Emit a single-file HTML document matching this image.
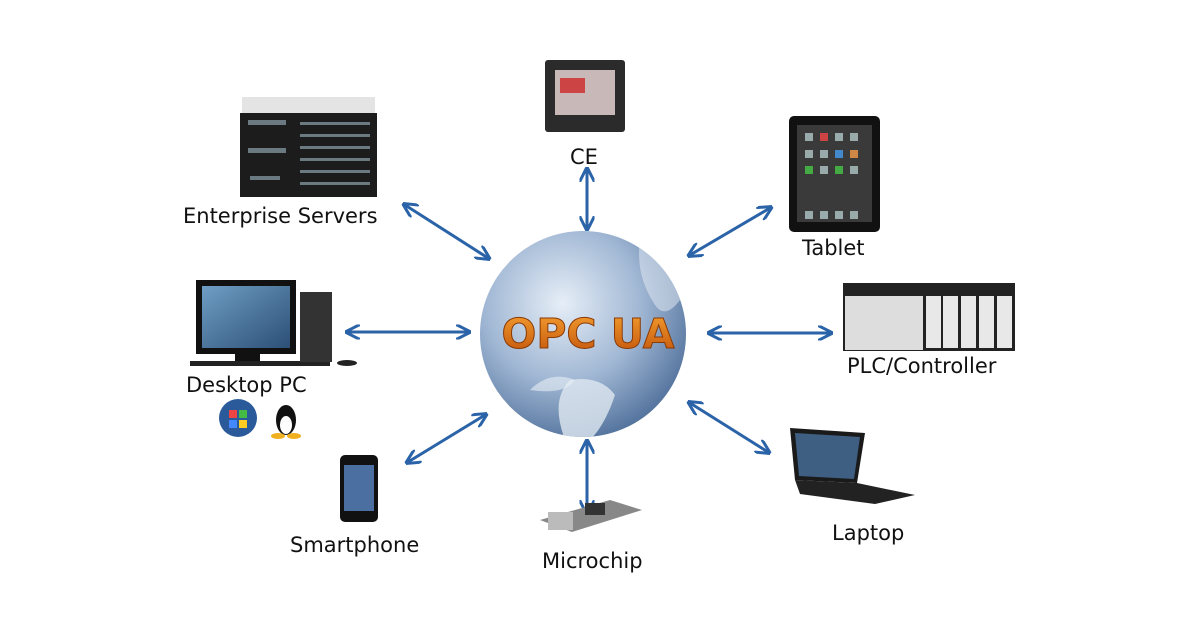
<!DOCTYPE html>
<html><head><meta charset="utf-8"><style>
html,body{margin:0;padding:0;background:#fff}
svg{display:block}
text{font-family:"DejaVu Sans","Liberation Sans",sans-serif;font-size:21px;fill:#111}
</style></head><body>
<svg width="1200" height="630" viewBox="0 0 1200 630" xmlns="http://www.w3.org/2000/svg">
<defs>
<radialGradient id="g" cx="0.4" cy="0.35" r="0.7">
<stop offset="0" stop-color="#e6eef7"/><stop offset="0.55" stop-color="#9fb6d3"/><stop offset="1" stop-color="#4f6f9a"/>
</radialGradient>
<linearGradient id="o" x1="0" y1="0" x2="0" y2="1">
<stop offset="0" stop-color="#f5a030"/><stop offset="1" stop-color="#c0500a"/>
</linearGradient>
<linearGradient id="scr" x1="0" y1="0" x2="1" y2="1">
<stop offset="0" stop-color="#6f9ec4"/><stop offset="1" stop-color="#2c4f76"/>
</linearGradient>
<clipPath id="gc"><circle cx="583" cy="334" r="103"/></clipPath>
<marker id="a" viewBox="0 0 10 10" refX="8" refY="5" markerWidth="5" markerHeight="5" orient="auto-start-reverse">
<path d="M0,0 L10,5 L0,10" fill="none" stroke="#2a63a8" stroke-width="2"/>
</marker>
</defs>
<g stroke="#2a63a8" stroke-width="3" marker-start="url(#a)" marker-end="url(#a)" fill="none">
<line x1="405" y1="205" x2="488" y2="258"/>
<line x1="587" y1="170" x2="587" y2="228"/>
<line x1="770" y1="208" x2="690" y2="255"/>
<line x1="348" y1="332" x2="468" y2="332"/>
<line x1="710" y1="333" x2="830" y2="333"/>
<line x1="408" y1="462" x2="485" y2="415"/>
<line x1="587" y1="442" x2="587" y2="512"/>
<line x1="690" y1="403" x2="768" y2="452"/>
</g>
<!-- globe -->
<circle cx="583" cy="334" r="103" fill="url(#g)"/>
<g clip-path="url(#gc)">
<path d="M565,440 q-15,-40 5,-60 q30,-5 45,15 q-10,30 -25,45 z" fill="#dfe7f0" opacity="0.8"/>
<path d="M640,240 q30,20 40,60 q-15,20 -25,5 q-20,-30 -15,-65z" fill="#e8eef5" opacity="0.5"/>
<path d="M530,390 q20,-20 45,-10 q-10,15 -45,10z" fill="#e8eef5" opacity="0.6"/>
</g>
<text x="588" y="348" text-anchor="middle" style="font-family:'DejaVu Sans',sans-serif;font-weight:bold;font-size:41px;fill:url(#o);stroke:#8a3a05;stroke-width:1">OPC UA</text>
<!-- servers -->
<rect x="242" y="97" width="133" height="16" fill="#e4e4e4"/>
<rect x="240" y="113" width="137" height="84" fill="#1c1c1c"/>
<g fill="#6a7a80"><rect x="248" y="120" width="38" height="5"/><rect x="248" y="148" width="38" height="5"/><rect x="300" y="122" width="70" height="3"/><rect x="300" y="134" width="70" height="3"/><rect x="300" y="146" width="70" height="3"/><rect x="300" y="158" width="70" height="3"/><rect x="300" y="170" width="70" height="3"/><rect x="300" y="182" width="70" height="3"/><rect x="250" y="176" width="30" height="4"/></g>
<text x="183" y="223">Enterprise Servers</text>
<!-- CE -->
<rect x="545" y="60" width="80" height="72" rx="3" fill="#2b2b2b"/>
<rect x="555" y="70" width="60" height="45" fill="#c9b8b8"/>
<rect x="560" y="78" width="25" height="15" fill="#c44"/>
<text x="570" y="164">CE</text>
<!-- tablet -->
<rect x="789" y="116" width="91" height="116" rx="5" fill="#111"/>
<rect x="797" y="125" width="75" height="97" fill="#3a3a3a"/>
<g fill="#9aa"><rect x="805" y="133" width="8" height="8"/><rect x="820" y="133" width="8" height="8" fill="#c44"/><rect x="835" y="133" width="8" height="8"/><rect x="850" y="133" width="8" height="8"/><rect x="805" y="150" width="8" height="8"/><rect x="820" y="150" width="8" height="8"/><rect x="835" y="150" width="8" height="8" fill="#48c"/><rect x="850" y="150" width="8" height="8" fill="#c84"/><rect x="805" y="166" width="8" height="8" fill="#4a4"/><rect x="820" y="166" width="8" height="8"/><rect x="835" y="166" width="8" height="8" fill="#4a4"/><rect x="850" y="166" width="8" height="8"/><rect x="805" y="211" width="8" height="8"/><rect x="820" y="211" width="8" height="8"/><rect x="835" y="211" width="8" height="8"/><rect x="850" y="211" width="8" height="8"/></g>
<text x="802" y="255">Tablet</text>
<!-- PLC -->
<rect x="843" y="283" width="172" height="68" fill="#222"/>
<rect x="845" y="296" width="78" height="54" fill="#ddd"/>
<g fill="#e8e8e8"><rect x="926" y="296" width="15" height="52"/><rect x="943" y="296" width="15" height="52"/><rect x="961" y="296" width="15" height="52"/><rect x="979" y="296" width="15" height="52"/><rect x="997" y="296" width="15" height="52"/></g>
<text x="847" y="373">PLC/Controller</text>
<!-- desktop -->
<rect x="196" y="280" width="100" height="74" fill="#111"/>
<rect x="202" y="286" width="88" height="62" fill="url(#scr)"/>
<rect x="235" y="354" width="25" height="8" fill="#111"/>
<rect x="190" y="361" width="140" height="5" fill="#222"/>
<rect x="300" y="292" width="32" height="70" fill="#333"/>
<ellipse cx="347" cy="363" rx="10" ry="3" fill="#222"/>
<text x="186" y="392">Desktop PC</text>
<circle cx="238" cy="418" r="19" fill="#2a5a9a"/>
<path d="M229,410 h8 v8 h-8z" fill="#e44"/><path d="M239,410 h8 v8 h-8z" fill="#4b4"/><path d="M229,420 h8 v8 h-8z" fill="#48f"/><path d="M239,420 h8 v8 h-8z" fill="#fc2"/>
<ellipse cx="286" cy="420" rx="10" ry="15" fill="#111"/><ellipse cx="286" cy="425" rx="6" ry="9" fill="#fff"/>
<ellipse cx="278" cy="436" rx="7" ry="3" fill="#f0b020"/><ellipse cx="294" cy="436" rx="7" ry="3" fill="#f0b020"/>
<!-- smartphone -->
<rect x="340" y="455" width="38" height="67" rx="5" fill="#111"/>
<rect x="344" y="465" width="30" height="46" fill="#4a6fa0"/>
<text x="290" y="552">Smartphone</text>
<!-- microchip -->
<path d="M540,520 l70,-20 l32,10 l-70,22z" fill="#888"/>
<rect x="548" y="512" width="25" height="18" fill="#bbb"/>
<rect x="585" y="503" width="20" height="12" fill="#333"/>
<text x="542" y="568">Microchip</text>
<!-- laptop -->
<path d="M790,428 l75,5 l-8,50 l-62,-3z" fill="#1a1a1a"/>
<path d="M795,433 l65,4 l-6,42 l-55,-3z" fill="#3e5f82"/>
<path d="M795,480 l62,3 l58,12 l-40,9 l-75,-10z" fill="#222"/>
<text x="832" y="540">Laptop</text>
</svg>
</body></html>
